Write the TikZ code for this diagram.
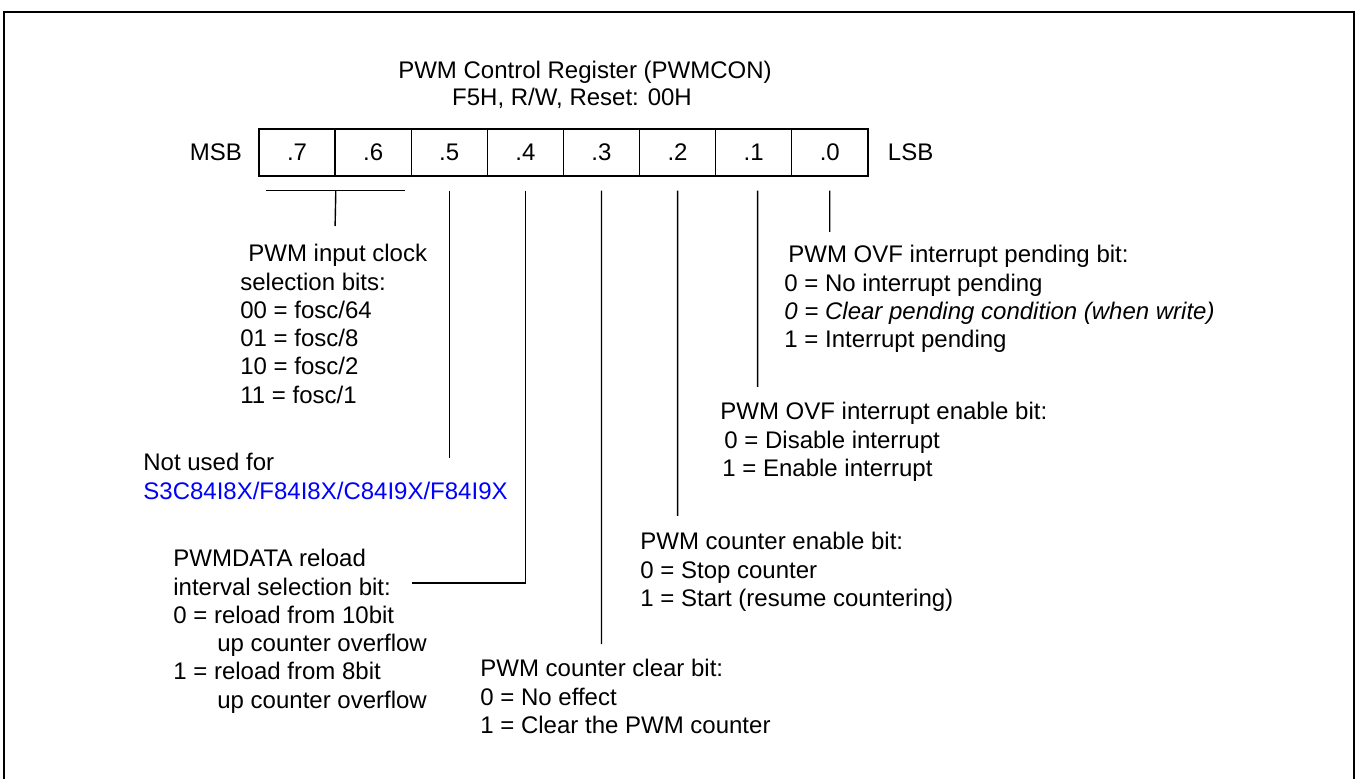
\documentclass[tikz,border=0pt]{standalone}
\usepackage{fontspec}
\setmainfont{Liberation Sans}
\usepackage{xcolor}
\usepackage{tikz}
\usetikzlibrary{positioning}
\definecolor{notusedcolor}{RGB}{0,0,255}

\begin{document}
\begin{tikzpicture}[
    x=0.5pt, y=-0.5pt,
    every node/.style={font=\fontsize{12}{14.15}\selectfont},
    cell/.style={draw, line width=0.7pt, minimum width=38.05pt, minimum height=23.5pt, inner sep=0pt},
    side/.style={inner sep=0pt},
    desc/.style={anchor=north west, align=left, inner sep=0pt},
    leader/.style={line width=0.7pt}
]
    \useasboundingbox (0,0) rectangle (1358,779);
    % Frame
    \draw[line width=1.25pt] (4,779) -- (4,12) -- (1354,12) -- (1354,779);

    % Title
    \node[anchor=base] (title) at (585,79) {PWM Control Register (PWMCON)};
    \node[anchor=base] (reset) at (572,106) {F5H, R/W, Reset: 00H};

    % Register bits
    \foreach \b in {7,...,0}
        \node[cell] (b\b) at ({297.05+(7-\b)*76.1},152.5) {.\b};
    \node[side, left=8pt of b7] (msb) {MSB};
    \node[side, right=9.5pt of b0] (lsb) {LSB};

    % Descriptions
    \node[desc] (clksel) at (240,244) {\hspace{4pt}PWM input clock\\selection bits:\\00 = fosc/64\\01 = fosc/8\\10 = fosc/2\\11 = fosc/1};
    \node[desc] (notused) at (143,453) {Not used for\\\textcolor{notusedcolor}{S3C84I8X/F84I8X/C84I9X/F84I9X}};
    \node[desc] (reload) at (173,549) {PWMDATA reload\\interval selection bit:\\0 = reload from 10bit\\\hspace{22pt}up counter overflow\\1 = reload from 8bit\\\hspace{22pt}up counter overflow};
    \node[desc] (clear) at (480,659) {PWM counter clear bit:\\0 = No effect\\1 = Clear the PWM counter};
    \node[desc] (cnten) at (640,532) {PWM counter enable bit:\\0 = Stop counter\\1 = Start (resume countering)};
    \node[desc] (ovfen) at (720,402) {PWM OVF interrupt enable bit:\\\hspace{2pt}0 = Disable interrupt\\\hspace{1pt}1 = Enable interrupt};
    \node[desc] (pend) at (784,245) {\hspace{2pt}PWM OVF interrupt pending bit:\\0 = No interrupt pending\\\textit{0 = Clear pending condition (when write)}\\1 = Interrupt pending};

    % Leader ends
    \coordinate (e76) at (335.1,226);
    \coordinate (e5) at (449.25,458);
    \coordinate (e4) at (412,583);
    \coordinate (e3) at (601.45,644);
    \coordinate (e2) at (677.55,516);
    \coordinate (e1) at (757.65,387);
    \coordinate (e0) at (829.75,232);

    % Leaders
    \draw[leader] ([xshift=4pt,yshift=-7pt]b7.south west) -- ([xshift=-3.5pt,yshift=-7pt]b6.south east);
    \draw[leader] ([yshift=-7pt]b7.south east) -- (e76);
    \draw[leader] ([yshift=-7pt]b5.south) -- (e5);
    \draw[leader] ([yshift=-7pt]b4.south) |- (e4);
    \draw[leader] ([yshift=-7pt]b3.south) -- (e3);
    \draw[leader] ([yshift=-7pt]b2.south) -- (e2);
    \draw[leader] ([xshift=2pt,yshift=-7pt]b1.south) -- (e1);
    \draw[leader] ([yshift=-7pt]b0.south) -- (e0);
\end{tikzpicture}
\end{document}
